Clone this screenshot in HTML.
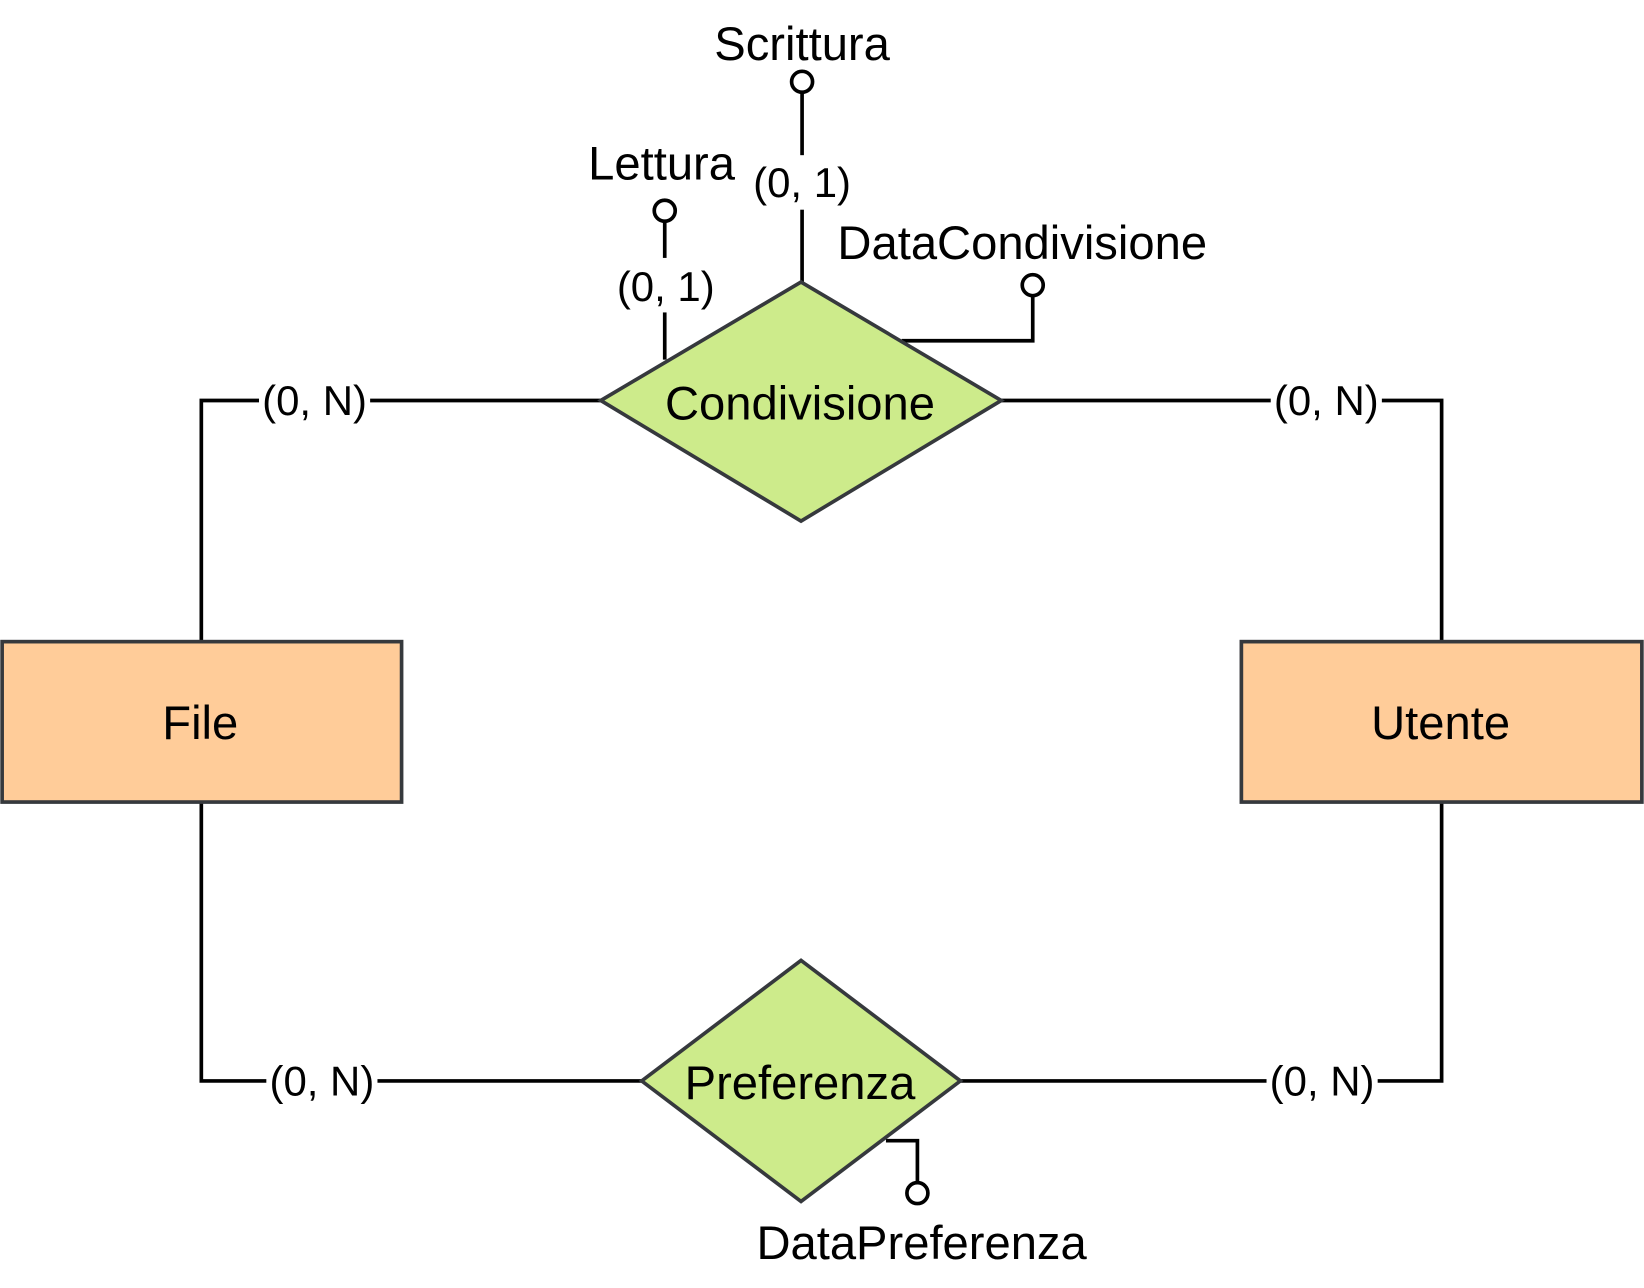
<!DOCTYPE html>
<html><head><meta charset="utf-8"><style>
html,body{margin:0;padding:0;background:#fff;width:1644px;height:1288px;overflow:hidden}
svg{display:block}
text{font-family:"Liberation Sans",Arial,sans-serif;fill:#000}
</style></head><body>
<svg width="1644" height="1288" viewBox="0 0 1568 1228.5" xmlns="http://www.w3.org/2000/svg">
<g fill="none" stroke="#000" stroke-width="3.5">
<polyline points="192,611 192,382 573,382"/>
<polyline points="1375,611 1375,382 955,382"/>
<polyline points="192,765 192,1031 612,1031"/>
<polyline points="1375,765 1375,1031 916,1031"/>
<line x1="765" y1="88" x2="765" y2="269"/>
<line x1="634" y1="211" x2="634" y2="343"/>
<polyline points="985,282 985,325 860,325"/>
<polyline points="875,1128 875,1088 845,1088"/>
</g>
<g fill="#fff" stroke="#000" stroke-width="3.5">
<circle cx="765" cy="78" r="10"/>
<circle cx="634" cy="201" r="10"/>
<circle cx="985" cy="272" r="10"/>
<circle cx="875" cy="1138" r="10"/>
</g>
<rect x="2" y="612" width="381" height="153" fill="#FFCC99" stroke="#36393d" stroke-width="3.5"/>
<rect x="1184" y="612" width="382" height="153" fill="#FFCC99" stroke="#36393d" stroke-width="3.5"/>
<polygon points="573,382 764,269 955,382 764,497" fill="#CDEB8B" stroke="#36393d" stroke-width="3.5"/>
<polygon points="612,1031 764,916 916,1031 764,1146" fill="#CDEB8B" stroke="#36393d" stroke-width="3.5"/>
<g fill="#fff">
<rect x="247" y="362" width="106" height="40"/>
<rect x="1212" y="362" width="106" height="40"/>
<rect x="254" y="1011" width="106" height="40"/>
<rect x="1208" y="1011" width="106" height="40"/>
<rect x="713" y="148" width="104" height="52"/>
<rect x="583" y="246" width="104" height="52"/>
</g>
<g font-size="40" text-anchor="middle">
<text x="300" y="396">(0, N)</text>
<text x="1265" y="396">(0, N)</text>
<text x="307" y="1045">(0, N)</text>
<text x="1261" y="1045">(0, N)</text>
<text x="765" y="188">(0, 1)</text>
<text x="635" y="287">(0, 1)</text>
</g>
<g font-size="45" text-anchor="middle">
<text x="765" y="57">Scrittura</text>
<text x="631" y="171">Lettura</text>
<text x="975" y="247">DataCondivisione</text>
<text x="879" y="1201">DataPreferenza</text>
<text x="763" y="400">Condivisione</text>
<text x="763" y="1048">Preferenza</text>
<text x="191" y="705">File</text>
<text x="1374" y="705">Utente</text>
</g>
</svg>
</body></html>
